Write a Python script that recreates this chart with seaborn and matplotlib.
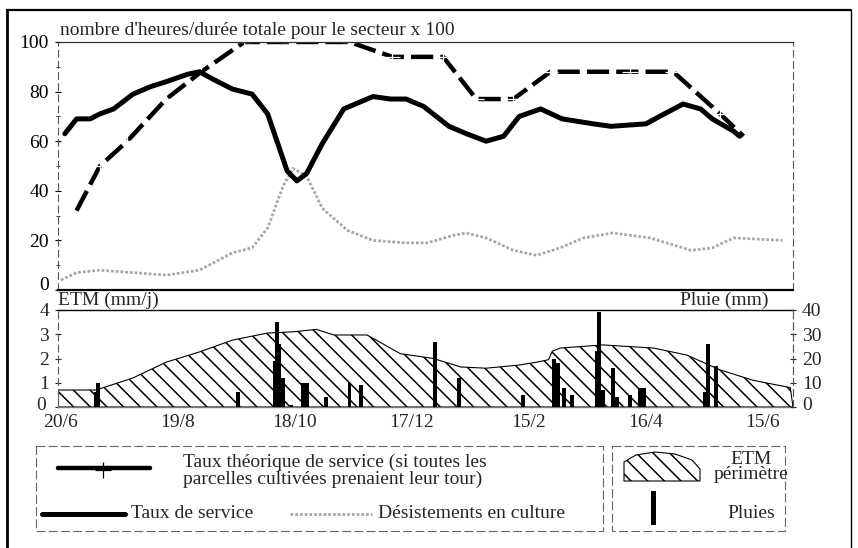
import numpy as np
import pandas as pd
import matplotlib
matplotlib.use("Agg")
import matplotlib.pyplot as plt
import matplotlib.transforms as mtransforms
import seaborn as sns
from matplotlib.patches import Polygon, Rectangle
from matplotlib.lines import Line2D

# ---------------- data ----------------
x_tick_days = [0, 60, 120, 180, 240, 300, 360]
x_tick_labels = ["20/6", "19/8", "18/10", "17/12", "15/2", "16/4", "15/6"]

service_days = [2, 8, 15, 20, 27, 37, 46, 54, 65, 71, 78, 88, 98, 106, 116, 121, 126,
                134, 145, 160, 169, 177, 186, 199, 208, 218, 227, 235, 246, 257, 273,
                282, 300, 307, 319, 328, 334, 345, 348]
service_vals = [63, 69, 69, 71, 73, 79, 82, 84, 87, 88, 85, 81, 79, 71, 48, 44, 47,
                59, 73, 78, 77, 77, 74, 66, 63, 60, 62, 70, 73, 69, 67,
                66, 67, 70, 75, 73, 69, 64, 62]

theo_days = [8, 20, 34, 54, 72, 94, 117, 148, 170, 196, 213, 232, 251, 292, 314, 338, 350]
theo_vals = [32, 50, 60, 77, 88, 100, 100, 100, 94, 94, 77, 77, 88, 88, 88, 71, 62]

desist_days = [0, 8, 20, 37, 54, 71, 88, 98, 106, 114, 119, 126, 134, 147, 160, 177,
               188, 201, 208, 218, 232, 244, 256, 268, 283, 302, 323, 334, 345, 370]
desist_vals = [4, 7, 8, 7, 6, 8, 15, 17, 25, 42, 49, 46, 33, 24, 20, 19,
               19, 22, 23, 21, 16, 14, 17, 21, 23, 21, 16, 17, 21, 20]

etm_days = [-1.5, 18, 37, 54, 71, 88, 106, 119, 131, 140, 157, 174, 191, 205, 218,
            235, 244, 250, 252, 256, 278, 304, 321, 338, 355, 374, 375.4]
etm_vals = [0.7, 0.7, 1.2, 1.85, 2.27, 2.76, 3.05, 3.1, 3.2, 2.97, 2.97, 2.2, 2.0, 1.65, 1.6,
            1.73, 1.85, 1.95, 2.3, 2.43, 2.56, 2.43, 2.14, 1.53, 1.1, 0.8, 0.0]

rain_days = [18, 19, 91, 110, 111, 112, 114, 118, 124, 126, 136, 148, 154, 192, 204, 237,
             253, 255, 258, 262, 275, 276, 278, 283, 285, 292, 297, 299, 330, 332, 336]
rain_mm = [6, 10, 6, 19, 35, 26, 12, 1, 10, 10, 4, 10, 9, 27, 12, 5,
           20, 18, 8, 5, 23, 39, 7, 16, 4, 5, 8, 8, 6, 26, 17]

# ---------------- style ----------------
sns.set_theme(style="white")
plt.rcParams["font.family"] = ["Liberation Serif", "DejaVu Serif"]
plt.rcParams["hatch.linewidth"] = 1.1
FS = 14

W, H = 858, 548
fig = plt.figure(figsize=(W / 100, H / 100), dpi=100)


def px_axes(l, t, r, b, **kw):
    return fig.add_axes([l / W, 1 - b / H, (r - l) / W, (b - t) / H], **kw)


def shift_label(lbl, dx_px, dy_px):
    off = mtransforms.ScaledTranslation(dx_px / 100, dy_px / 100, fig.dpi_scale_trans)
    lbl.set_transform(lbl.get_transform() + off)


XMIN, XMAX = -1.5, 375.4

# ---------------- top panel ----------------
ax = px_axes(58, 42, 793, 290)
ax.set_facecolor("none")
df_s = pd.DataFrame({"day": service_days, "val": service_vals})
df_t = pd.DataFrame({"day": theo_days, "val": theo_vals})
df_d = pd.DataFrame({"day": desist_days, "val": desist_vals})

sns.lineplot(data=df_d, x="day", y="val", ax=ax, color="#a8a8a8", linewidth=2.0,
             linestyle=(0, (1, 0.7)), estimator=None, sort=False)
sns.lineplot(data=df_t, x="day", y="val", ax=ax, color="black", linewidth=3.2,
             linestyle=(0, (5, 1.6)), marker="+", markersize=11, markeredgewidth=0.9,
             markevery=list(range(1, len(theo_days) - 1)), estimator=None, sort=False)
sns.lineplot(data=df_s, x="day", y="val", ax=ax, color="black", linewidth=3.6,
             estimator=None, sort=False, solid_capstyle="round")

ax.set_xlim(XMIN, XMAX)
ax.set_ylim(0, 100)
ax.set_xticks([])
ax.set_yticks([0, 20, 40, 60, 80, 100])
ax.set_yticks([10, 30, 50, 70, 90], minor=True)
ax.tick_params(axis="y", which="major", direction="inout", length=5, width=0.8,
               labelsize=FS, pad=4, left=True, colors="black")
ax.tick_params(axis="y", which="minor", direction="inout", length=3, width=0.6, left=True)
ax.set_xlabel("")
ax.set_ylabel("")
for s in ["left", "right"]:
    ax.spines[s].set_linestyle((0, (6, 4)))
    ax.spines[s].set_color("#555555")
    ax.spines[s].set_linewidth(0.8)
ax.spines["top"].set_color("#333333")
ax.spines["top"].set_linewidth(0.9)
ax.spines["bottom"].set_color("black")
ax.spines["bottom"].set_linewidth(1.6)
ax.text(0.003, 1.012, "nombre d'heures/durée totale pour le secteur x 100",
        transform=ax.transAxes, fontsize=FS, va="bottom", ha="left")

# ---------------- bottom panel ----------------
axb = px_axes(58, 310, 793, 407)
axb.set_facecolor("none")
axb.fill_between(etm_days, 0, etm_vals, facecolor="white", edgecolor="black",
                 hatch="\\\\", linewidth=0.8)
axb.set_xlim(XMIN, XMAX)
axb.set_ylim(0, 4)
axb.set_yticks([0, 1, 2, 3, 4])
axb.set_xticks(x_tick_days)
axb.set_xticklabels(x_tick_labels)
axb.tick_params(axis="y", direction="inout", length=5, width=0.8, labelsize=FS, pad=4, left=True)
axb.tick_params(axis="x", direction="in", length=3, width=0.6, labelsize=FS, pad=5, bottom=True)
for s in ["left", "right"]:
    axb.spines[s].set_linestyle((0, (6, 4)))
    axb.spines[s].set_color("#555555")
    axb.spines[s].set_linewidth(0.8)
axb.spines["top"].set_color("black")
axb.spines["top"].set_linewidth(1.0)
axb.spines["bottom"].set_color("#777777")
axb.spines["bottom"].set_linewidth(1.0)
axb.text(0.0, 1.01, "ETM (mm/j)", transform=axb.transAxes, fontsize=FS,
         va="bottom", ha="left")
axb.text(0.966, 1.01, "Pluie (mm)", transform=axb.transAxes, fontsize=FS,
         va="bottom", ha="right")

axr = axb.twinx()
axr.bar(rain_days, rain_mm, width=2.0, color="black", linewidth=0)
axr.set_ylim(0, 40)
axr.set_yticks([0, 10, 20, 30, 40])
axr.tick_params(axis="y", direction="inout", length=5, width=0.8, labelsize=FS, pad=4, right=True)
for s in ["left", "top", "bottom"]:
    axr.spines[s].set_visible(False)
axr.spines["right"].set_linestyle((0, (6, 4)))
axr.spines["right"].set_color("#555555")
axr.spines["right"].set_linewidth(0.8)
axr.grid(False)
axb.grid(False)
ax.grid(False)

# nudge zero labels (as in the reference) so they clear the axis corner
shift_label(ax.get_yticklabels()[0], 0, 6)
shift_label(axb.get_yticklabels()[0], -3, 4)
shift_label(axr.get_yticklabels()[0], 0, 4)

# ---------------- overlay: frame and legend ----------------
ov = fig.add_axes([0, 0, 1, 1], facecolor="none")
ov.set_xlim(0, W)
ov.set_ylim(H, 0)
ov.axis("off")

ov.add_line(Line2D([7, 7], [10, 548], color="black", lw=2.0))
ov.add_line(Line2D([7, 851], [10, 10], color="black", lw=1.6))
ov.add_line(Line2D([851, 851], [10, 548], color="black", lw=1.0))

ov.add_patch(Rectangle((36, 446), 567, 85, fill=False, edgecolor="#666666",
                       lw=0.8, linestyle=(0, (8, 3))))
ov.add_patch(Rectangle((612, 446), 173, 85, fill=False, edgecolor="#666666",
                       lw=0.8, linestyle=(0, (8, 3))))

ov.add_line(Line2D([58, 150], [468, 468], color="black", lw=3.2))
ov.plot([103], [470], marker="+", color="black", markersize=12, markeredgewidth=0.9)
ov.text(183, 471, "Taux théorique de service (si toutes les\nparcelles cultivées prenaient leur tour)",
        fontsize=FS, va="center", ha="left", linespacing=1.0)

ov.add_line(Line2D([42, 125], [514, 514], color="black", lw=3.6))
ov.text(131, 514, "Taux de service", fontsize=FS, va="center", ha="left")
ov.add_line(Line2D([290, 372], [514, 514], color="#a8a8a8", lw=2.0, linestyle=(0, (1, 0.7))))
ov.text(378, 514, "Désistements en culture", fontsize=FS, va="center", ha="left")

blob = [(624, 481), (624, 462), (636, 455), (655, 452), (675, 454), (692, 460),
        (700, 469), (700, 481)]
ov.add_patch(Polygon(blob, closed=True, facecolor="white", edgecolor="black",
                     hatch="\\\\", lw=0.8))
ov.text(751, 467, "ETM\npérimètre", fontsize=FS, va="center", ha="center", linespacing=0.85)
ov.add_patch(Rectangle((651, 491), 5, 34, facecolor="black", edgecolor="none"))
ov.text(751, 513, "Pluies", fontsize=FS, va="center", ha="center")

fig.savefig("out.png", dpi=100)
